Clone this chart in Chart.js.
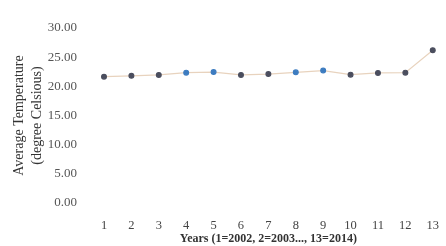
<!DOCTYPE html>
<html>
<head>
<meta charset="utf-8">
<script src="https://cdn.jsdelivr.net/npm/chart.js@4"></script>
<style>
    html, body { margin: 0; padding: 0; background: #fff; }
    #wrap { width: 446px; height: 246px; position: relative; }
</style>
</head>
<body>
<div id="wrap"><canvas id="tempChart"></canvas></div>
<script>
var years = ['1', '2', '3', '4', '5', '6', '7', '8', '9', '10', '11', '12', '13'];
var avgTemperature = [21.65, 21.8, 21.95, 22.35, 22.45, 21.95, 22.1, 22.4, 22.7, 22.0, 22.3, 22.35, 26.2];
var yTicks = [0, 5, 10, 15, 20, 25, 30];

(function () {
    var pointColors = avgTemperature.map(function (v, i) {
        return [3, 4, 7, 8].indexOf(i) >= 0 ? '#3d7cc0' : '#4b4e5e';
    });

    new Chart(document.getElementById('tempChart').getContext('2d'), {
        type: 'line',
        data: {
            labels: years,
            datasets: [{
                data: avgTemperature,
                borderColor: '#e8d3be',
                borderWidth: 1.2,
                pointBackgroundColor: pointColors,
                pointBorderColor: pointColors,
                pointRadius: 2.4,
                tension: 0
            }]
        },
        options: {
            responsive: true,
            maintainAspectRatio: false,
            animation: false,
            layout: { padding: { top: 28, right: 9, left: 0, bottom: 0 } },
            plugins: { legend: { display: false }, tooltip: { enabled: false } },
            scales: {
                x: {
                    offset: false,
                    grid: { display: false },
                    border: { display: false },
                    ticks: {
                        padding: 7,
                        color: '#444',
                        font: { family: 'Liberation Serif', size: 12.5 }
                    },
                    title: {
                        display: true,
                        text: 'Years (1=2002, 2=2003..., 13=2014)',
                        color: '#333',
                        font: { family: 'Liberation Serif', size: 12, weight: 'bold' },
                        padding: { top: 4, bottom: 0 }
                    },
                    afterFit: function (axis) { axis.height = 43; }
                },
                y: {
                    min: 0,
                    max: 30,
                    grid: { display: false },
                    border: { display: false },
                    afterBuildTicks: function (axis) {
                        axis.ticks = yTicks.map(function (v) { return { value: v }; });
                    },
                    ticks: {
                        padding: 19,
                        color: '#555',
                        font: { family: 'Liberation Serif', size: 13 },
                        callback: function (value) { return Number(value).toFixed(2); }
                    },
                    title: {
                        display: true,
                        text: ['Average Temperature', '(degree Celsious)'],
                        color: '#333',
                        font: { family: 'Liberation Serif', size: 14, lineHeight: 1.25 },
                        padding: { top: 11, bottom: 0 }
                    },
                    afterFit: function (axis) { axis.width = 104; }
                }
            }
        }
    });
})();
</script>
</body>
</html>
